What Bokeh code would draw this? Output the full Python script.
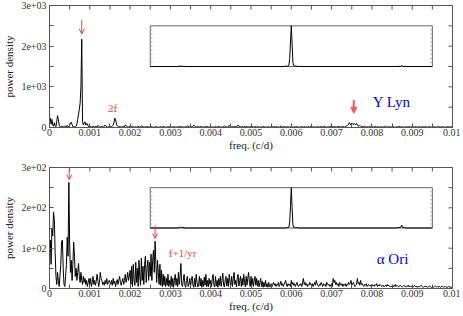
import numpy as np
from bokeh.plotting import figure
from bokeh.layouts import column
from bokeh.models import Range1d, FixedTicker, Label, Arrow, OpenHead, NormalHead
from bokeh.embed import file_html
from bokeh.resources import INLINE

# ---------------- data ----------------
FREQ_STEP = 0.00002
N_FREQ = 501

# Y Lyn power density (step 0.00002 c/d, rows of 0.0005 c/d)
ylyn_power = [
    150, 230, 80, 200, 60, 30, 120, 40, 20, 150, 290, 200, 60, 20, 10, 30, 20, 10, 20, 40, 30, 10, 50, 20, 10,
    60, 110, 130, 70, 20, 10, 20, 15, 30, 80, 200, 330, 450, 600, 1000, 2170, 150, 60, 110, 140, 60, 100, 90, 30, 20,
    15, 25, 10, 20, 30, 15, 10, 25, 20, 10, 50, 30, 15, 10, 20, 15, 25, 10, 30, 60, 40, 15, 10, 20, 15,
    10, 20, 15, 40, 60, 120, 230, 200, 90, 40, 20, 10, 25, 15, 10, 20, 15, 30, 15, 60, 50, 20, 10, 15, 25,
    15, 10, 20, 30, 15, 10, 8, 15, 10, 20, 30, 15, 10, 20, 40, 25, 10, 15, 10, 20, 15, 10, 25, 15, 10,
    10, 15, 20, 10, 8, 15, 10, 20, 15, 10, 5, 10, 15, 20, 10, 15, 30, 15, 10, 8, 10, 15, 10, 20, 15,
    10, 8, 15, 10, 20, 15, 10, 5, 10, 15, 20, 25, 15, 10, 20, 15, 10, 8, 15, 10, 20, 40, 30, 15, 10,
    15, 20, 10, 30, 60, 40, 20, 15, 10, 20, 15, 10, 25, 15, 10, 8, 15, 10, 20, 15, 30, 20, 10, 15, 10,
    20, 15, 10, 8, 15, 10, 25, 15, 10, 20, 30, 15, 10, 8, 15, 10, 20, 40, 25, 10, 15, 10, 30, 50, 20,
    10, 15, 20, 10, 15, 30, 15, 10, 40, 60, 35, 20, 15, 10, 20, 15, 10, 25, 15, 30, 20, 10, 15, 10, 20,
    15, 10, 20, 15, 10, 25, 15, 10, 20, 15, 10, 8, 15, 10, 20, 15, 25, 10, 15, 10, 8, 15, 20, 10, 15,
    10, 15, 20, 10, 25, 15, 10, 20, 15, 10, 8, 15, 30, 20, 10, 15, 10, 20, 15, 10, 15, 20, 10, 8, 15,
    20, 10, 15, 10, 20, 15, 10, 25, 15, 10, 8, 15, 10, 20, 15, 10, 15, 20, 10, 15, 10, 20, 15, 10, 25,
    15, 10, 20, 15, 10, 8, 15, 10, 20, 15, 10, 15, 25, 15, 10, 20, 30, 15, 10, 8, 15, 10, 20, 15, 25,
    40, 20, 15, 10, 20, 15, 10, 15, 20, 30, 20, 15, 10, 20, 25, 15, 10, 20, 30, 40, 60, 80, 120, 90, 60,
    110, 90, 70, 100, 80, 60, 100, 70, 40, 30, 50, 30, 20, 25, 15, 20, 30, 15, 10, 20, 15, 10, 25, 15, 10,
    15, 20, 10, 15, 25, 15, 10, 20, 15, 10, 8, 15, 20, 10, 15, 10, 20, 30, 15, 10, 15, 10, 20, 15, 10,
    10, 15, 20, 10, 8, 15, 10, 20, 15, 25, 15, 10, 20, 15, 10, 8, 15, 10, 20, 15, 10, 25, 15, 10, 15,
    20, 10, 15, 10, 20, 15, 8, 10, 15, 20, 10, 15, 10, 20, 15, 10, 25, 15, 10, 8, 15, 10, 20, 15, 10,
    15, 10, 20, 15, 10, 8, 15, 10, 20, 15, 10, 15, 20, 10, 15, 10, 8, 15, 10, 20, 15, 10, 15, 10, 20,
    15,
]

# alpha Ori power density
aori_power = [
    100, 120, 60, 150, 130, 190, 170, 90, 30, 10, 40, 20, 5, 30, 60, 117, 120, 50, 10, 5, 30, 60, 127, 80, 263,
    110, 40, 70, 20, 60, 115, 80, 30, 50, 20, 40, 62, 30, 15, 40, 20, 10, 30, 15, 25, 10, 20, 5, 15, 25,
    10, 25, 5, 15, 30, 10, 20, 8, 18, 35, 20, 5, 15, 40, 25, 20, 10, 15, 8, 20, 12, 25, 10, 15, 20,
    15, 10, 20, 8, 25, 12, 18, 5, 15, 22, 10, 20, 30, 15, 8, 18, 25, 10, 20, 35, 15, 25, 40, 20, 30,
    45, 10, 55, 5, 60, 20, 8, 65, 15, 50, 5, 70, 30, 8, 75, 20, 55, 10, 60, 80, 15, 50, 70, 20, 65,
    30, 85, 20, 70, 95, 40, 117, 60, 15, 70, 40, 10, 60, 8, 45, 5, 35, 8, 30, 5, 25, 8, 35, 5, 20,
    8, 30, 5, 25, 3, 20, 35, 8, 25, 5, 40, 10, 30, 62, 10, 5, 20, 35, 8, 3, 20, 30, 5, 10, 25,
    5, 20, 30, 8, 3, 25, 5, 35, 15, 4, 10, 30, 6, 25, 3, 20, 5, 28, 8, 35, 5, 20, 4, 25, 10,
    20, 5, 25, 35, 8, 4, 30, 6, 20, 3, 25, 8, 30, 5, 20, 38, 8, 4, 22, 30, 6, 25, 5, 35, 15,
    8, 30, 5, 25, 40, 10, 20, 4, 28, 35, 6, 20, 30, 5, 25, 8, 35, 15, 4, 30, 8, 25, 40, 15, 5,
    30, 8, 25, 5, 20, 30, 8, 25, 6, 20, 4, 15, 25, 5, 18, 3, 15, 5, 20, 4, 12, 3, 15, 5, 4,
    12, 5, 10, 15, 8, 12, 5, 10, 8, 15, 5, 10, 18, 8, 12, 5, 10, 15, 20, 8, 5, 12, 8, 10, 5,
    20, 10, 15, 8, 12, 5, 10, 15, 8, 5, 10, 8, 12, 5, 15, 25, 10, 15, 8, 12, 5, 10, 8, 15, 10,
    8, 12, 5, 10, 15, 8, 20, 12, 8, 5, 10, 8, 15, 10, 5, 12, 8, 10, 5, 15, 12, 8, 10, 5, 8,
    12, 5, 25, 15, 20, 10, 15, 8, 12, 5, 15, 10, 8, 12, 5, 10, 8, 12, 5, 10, 8, 15, 10, 12, 20,
    8, 12, 15, 10, 5, 8, 10, 25, 12, 15, 8, 20, 10, 12, 8, 5, 10, 8, 12, 5, 8, 10, 6, 8, 5,
    10, 6, 8, 5, 10, 8, 12, 5, 8, 6, 10, 8, 5, 6, 8, 4, 6, 8, 5, 10, 6, 8, 5, 4, 6,
    5, 8, 4, 6, 10, 5, 8, 6, 4, 5, 8, 6, 5, 4, 6, 8, 5, 4, 6, 5, 8, 4, 6, 5, 4,
    6, 4, 5, 8, 5, 4, 6, 3, 5, 4, 6, 8, 5, 4, 3, 5, 6, 4, 5, 3, 4, 6, 5, 4, 3,
    5, 4, 3, 5, 6, 4, 5, 3, 4, 5, 3, 4, 6, 5, 3, 4, 5, 3, 4, 3, 5, 4, 3, 4, 3,
    4,
]

# spectral window (inset), offset frequency and normalised power
win_offset = [-0.0035, -0.00285, -0.00276, -0.00274, -0.00272, -0.0026, -0.00018, -0.00014,
              -0.0001, -0.00008, -0.00006, -0.00004, -0.00002, 0.0, 0.00002, 0.00004, 0.00006,
              0.00008, 0.0001, 0.00014, 0.00018, 0.0026, 0.00272, 0.00274, 0.00276, 0.00285, 0.0035]
ylyn_window = [0, 0, 0.005, 0.02, 0.005, 0, 0, 0.01, 0.005, 0.015, 0.03, 0.2, 0.6, 1.0, 0.55,
               0.1, 0.02, 0.01, 0.015, 0.005, 0, 0, 0.005, 0.025, 0.005, 0, 0]
aori_window = [0, 0, 0.01, 0.03, 0.01, 0, 0, 0.005, 0.01, 0.005, 0.02, 0.15, 0.55, 1.0, 0.5,
               0.08, 0.01, 0.02, 0.005, 0.01, 0, 0, 0.02, 0.07, 0.02, 0, 0]
win_ticks = [0.1, 0.2, 0.3, 0.4, 0.5, 0.6, 0.7, 0.8, 0.9]

x_ticks = [0, 0.001, 0.002, 0.003, 0.004, 0.005, 0.006, 0.007, 0.008, 0.009, 0.01]
x_minor = [0.0005, 0.0015, 0.0025, 0.0035, 0.0045, 0.0055, 0.0065, 0.0075, 0.0085, 0.0095]
x_labels = ["0", "0.001", "0.002", "0.003", "0.004", "0.005", "0.006", "0.007", "0.008", "0.009", "0.01"]

ylyn_yticks = [0, 1000, 2000, 3000]
ylyn_ylabels = ["0", "1e+03", "2e+03", "3e+03"]
aori_yticks = [0, 100, 200, 300]
aori_ylabels = ["0", "1e+02", "2e+02", "3e+02"]

freq = np.round(np.arange(N_FREQ) * FREQ_STEP, 6)

FONT = "Liberation Serif"
AX = "#555555"
RED = "#ff3b3b"
WIDTH = 460
BORDER_L, BORDER_R = 47, 8
TICK_PX = 4


def make_panel(power, window, yticks, ylabels, height, top_border, bottom_border):
    ymax = yticks[-1]
    xmax = x_ticks[-1]
    p = figure(width=WIDTH, height=height, x_range=Range1d(0, xmax), y_range=Range1d(0, ymax),
               output_backend="svg", toolbar_location=None,
               min_border_left=BORDER_L, min_border_right=BORDER_R, min_border_top=top_border,
               min_border_bottom=bottom_border)
    p.xgrid.grid_line_color = None
    p.ygrid.grid_line_color = None
    p.outline_line_color = AX
    p.background_fill_color = "white"

    yminor = [(a + b) / 2 for a, b in zip(yticks[:-1], yticks[1:])]
    xt = FixedTicker(ticks=x_ticks, minor_ticks=x_minor)
    yt = FixedTicker(ticks=yticks, minor_ticks=yminor)

    for ax in p.xaxis:
        ax.ticker = xt
        ax.major_label_overrides = dict(zip(x_ticks, x_labels))
        ax.axis_label = "freq. (c/d)"
        ax.major_label_standoff = 1
        ax.axis_label_standoff = 0
    for ax in p.yaxis:
        ax.ticker = yt
        ax.major_label_overrides = dict(zip(yticks, ylabels))
        ax.axis_label = "power density"
        ax.major_label_standoff = 3
        ax.axis_label_standoff = 3

    for ax in list(p.xaxis) + list(p.yaxis):
        ax.axis_line_color = AX
        ax.major_tick_line_color = AX
        ax.minor_tick_line_color = AX
        ax.major_tick_in = TICK_PX
        ax.major_tick_out = 0
        ax.minor_tick_in = TICK_PX
        ax.minor_tick_out = 0
        ax.major_label_text_font = FONT
        ax.major_label_text_font_size = "10px"
        ax.major_label_text_color = "#333333"
        ax.axis_label_text_font = FONT
        ax.axis_label_text_font_size = "11px"
        ax.axis_label_text_font_style = "normal"
        ax.axis_label_text_color = "#222222"

    # inward ticks along the top and right edges of the frame
    frame_w = WIDTH - BORDER_L - BORDER_R
    frame_h = height - top_border - bottom_border
    dx = xmax * TICK_PX / frame_w
    dy = ymax * TICK_PX / frame_h
    all_x = x_ticks + x_minor
    all_y = yticks + yminor
    p.segment(x0=all_x, x1=all_x, y0=[ymax] * len(all_x), y1=[ymax - dy] * len(all_x),
              line_color=AX, line_width=1)
    p.segment(x0=[xmax] * len(all_y), x1=[xmax - dx] * len(all_y), y0=all_y, y1=all_y,
              line_color=AX, line_width=1)

    p.line(freq, power, line_color="black", line_width=1)

    # inset with the spectral window
    p.extra_x_ranges = {"win": Range1d(-0.006, 0.004)}
    p.extra_y_ranges = {"win": Range1d(-1.5, 1.5)}
    lo, hi = win_offset[0], win_offset[-1]
    p.quad(left=[lo], right=[hi], bottom=[0], top=[1], fill_color="white",
           line_color="#666666", line_width=1, x_range_name="win", y_range_name="win")
    wdx = dx * 0.5
    p.segment(x0=[lo] * len(win_ticks), x1=[lo + wdx] * len(win_ticks), y0=win_ticks,
              y1=win_ticks, line_color="#aaaaaa", line_width=1,
              x_range_name="win", y_range_name="win")
    p.segment(x0=[hi] * len(win_ticks), x1=[hi - wdx] * len(win_ticks), y0=win_ticks,
              y1=win_ticks, line_color="#aaaaaa", line_width=1,
              x_range_name="win", y_range_name="win")
    p.line(win_offset, window, line_color="black", line_width=1,
           x_range_name="win", y_range_name="win")
    return p


p1 = make_panel(ylyn_power, ylyn_window, ylyn_yticks, ylyn_ylabels, 160, 5, 33)
p2 = make_panel(aori_power, aori_window, aori_yticks, aori_ylabels, 154, 7, 26)

# annotations, top panel
p1.add_layout(Arrow(x_start=0.0008, y_start=2650, x_end=0.0008, y_end=2300,
                    line_color=RED, line_width=1,
                    end=OpenHead(size=5, line_color=RED, line_width=1)))
p1.add_layout(Arrow(x_start=0.00755, y_start=680, x_end=0.00755, y_end=350,
                    line_color="#ff5555", line_width=2,
                    end=NormalHead(size=6, fill_color="#ff5555", line_color="#ff5555")))
p1.add_layout(Label(x=0.00145, y=470, text="2f", text_font=FONT, text_font_size="11px",
                    text_color=RED, text_baseline="middle"))
p1.add_layout(Label(x=0.00802, y=620, text="Y Lyn", text_font=FONT, text_font_size="15px",
                    text_color="#0000ff", text_baseline="middle"))

# annotations, bottom panel
p2.add_layout(Arrow(x_start=0.00049, y_start=300, x_end=0.00049, y_end=270,
                    line_color=RED, line_width=1,
                    end=OpenHead(size=5, line_color=RED, line_width=1)))
p2.add_layout(Arrow(x_start=0.00262, y_start=156, x_end=0.00262, y_end=124,
                    line_color=RED, line_width=1,
                    end=OpenHead(size=5, line_color=RED, line_width=1)))
p2.add_layout(Label(x=0.00296, y=87, text="f+1/yr", text_font=FONT, text_font_size="11px",
                    text_color=RED, text_baseline="middle"))
p2.add_layout(Label(x=0.00812, y=74, text="α Ori", text_font=FONT, text_font_size="15px",
                    text_color="#0000ff", text_baseline="middle"))

layout = column(p1, p2, spacing=0)
open("out.html", "w").write(file_html(layout, INLINE))
